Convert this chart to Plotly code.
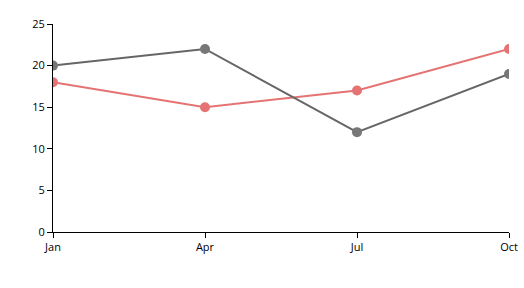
import plotly.graph_objects as go

months = ["Jan", "Apr", "Jul", "Oct"]
series_gray = [20, 22, 12, 19]
series_red = [18, 15, 17, 22]
y_ticks = [0, 5, 10, 15, 20, 25]

fig = go.Figure()
fig.add_trace(go.Scatter(x=months, y=series_red, mode="lines+markers",
                         line=dict(color="#e57373", width=2),
                         marker=dict(color="#e57373", size=10)))
fig.add_trace(go.Scatter(x=months, y=series_gray, mode="lines+markers",
                         line=dict(color="#666666", width=2),
                         marker=dict(color="#777777", size=10)))

fig.update_layout(
    width=524, height=288,
    margin=dict(l=53, r=15, t=24, b=56, autoexpand=False),
    showlegend=False,
    plot_bgcolor="white", paper_bgcolor="white",
    font=dict(family="Open Sans, DejaVu Sans, sans-serif", size=11, color="black"),
)
fig.update_xaxes(type="category", range=[0, 3], showgrid=False, showline=True,
                 linecolor="black", linewidth=1, ticks="outside", ticklen=5,
                 tickcolor="black", zeroline=False, automargin=False)
fig.update_yaxes(range=[0, 25], tickvals=y_ticks, showgrid=False, showline=True,
                 linecolor="black", linewidth=1, ticks="outside", ticklen=5,
                 tickcolor="black", zeroline=False, automargin=False)

fig.write_html("out.html")
